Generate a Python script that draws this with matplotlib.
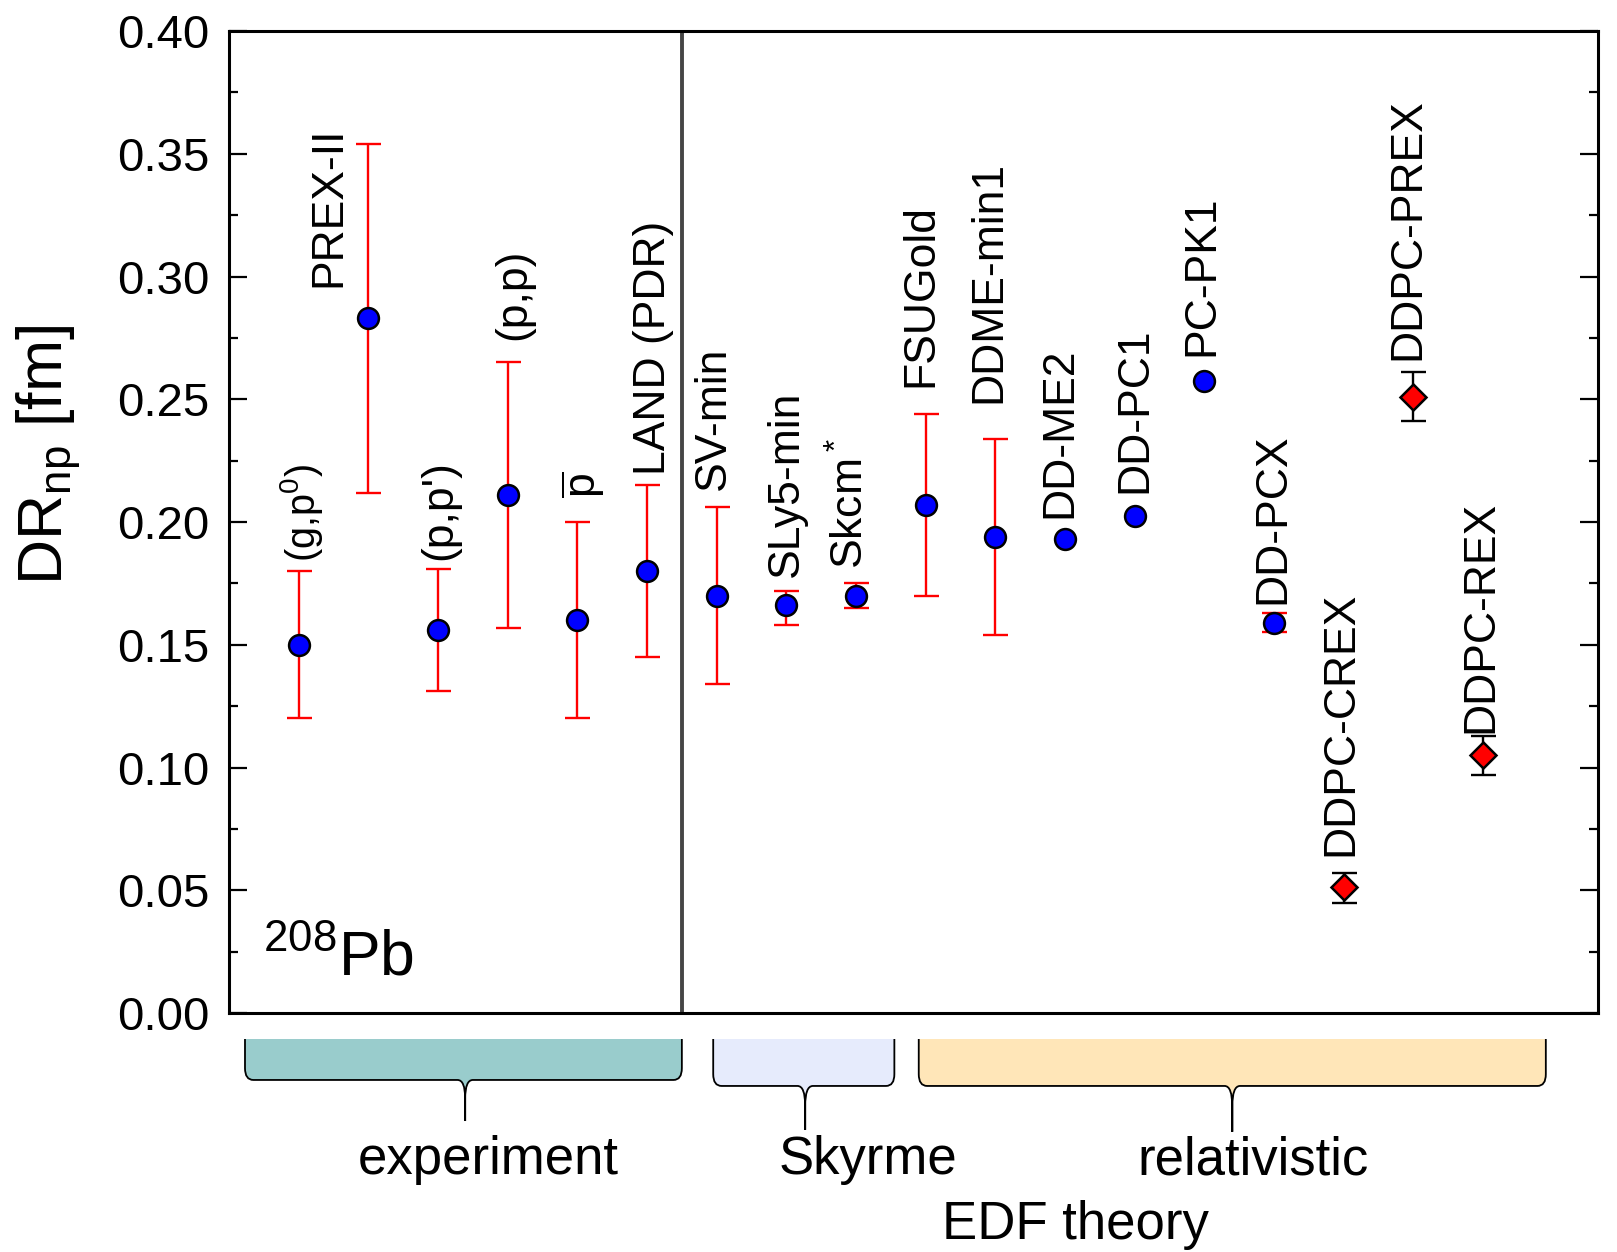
import numpy as np
import matplotlib
matplotlib.use("Agg")
import matplotlib.pyplot as plt
from matplotlib.path import Path
from matplotlib.patches import PathPatch
from matplotlib.transforms import blended_transform_factory

plt.rcParams['font.family'] = ['Liberation Sans', 'DejaVu Sans']
plt.rcParams['mathtext.fontset'] = 'custom'
plt.rcParams['mathtext.rm'] = 'Liberation Sans'
plt.rcParams['mathtext.default'] = 'regular'

# data: neutron skin thickness of 208Pb
labels = ['(g,p$^0$)', 'PREX-II', "(p,p')", '(p,p)', r'$\overline{p}$', 'LAND (PDR)',
          'SV-min', 'SLy5-min', 'Skcm$^*$', 'FSUGold', 'DDME-min1', 'DD-ME2',
          'DD-PC1', 'PC-PK1', 'DD-PCX', 'DDPC-CREX', 'DDPC-PREX', 'DDPC-REX']
values = [0.150, 0.283, 0.156, 0.211, 0.160, 0.180,
          0.170, 0.166, 0.170, 0.207, 0.194, 0.193,
          0.2025, 0.2575, 0.159, 0.0513, 0.251, 0.105]
upper = [0.180, 0.354, 0.181, 0.265, 0.200, 0.215,
         0.206, 0.172, 0.175, 0.244, 0.234, np.nan,
         np.nan, np.nan, 0.163, 0.057, 0.261, 0.113]
lower = [0.120, 0.212, 0.131, 0.157, 0.120, 0.145,
         0.134, 0.158, 0.165, 0.170, 0.154, np.nan,
         np.nan, np.nan, 0.155, 0.045, 0.241, 0.097]
n_ddpc = 3  # last three are DDPC fits

# label anchor (x centre, bottom) for the rotated names
label_x = [1.04, 1.43, 3.03, 4.09, 5.08, 6.10, 6.95, 8.00, 8.93, 9.93, 10.91, 11.93,
           13.00, 13.97, 14.98, 15.96, 16.92, 17.97]
label_y = [0.1836, 0.2958, 0.1845, 0.274, 0.2097, 0.2193, 0.213, 0.1777, 0.181, 0.255,
           0.2483, 0.2017, 0.2118, 0.2676, 0.1668, 0.0639, 0.266, 0.1139]
label_size = [28.5, 32, 32, 32, 32, 32, 32, 32, 32, 32, 32, 32, 32, 32, 32, 32, 32, 32]

# groups under the axis: (text, left, right, tip, bottom, tip bottom, colour, text x)
groups = [('experiment', 0.23, 6.50, 3.39, -0.0682, -0.110, '#99cccc', 3.72),
          ('Skyrme', 6.95, 9.55, 8.27, -0.0743, -0.119, '#e6ebfc', 9.17),
          ('relativistic', 9.90, 18.90, 14.40, -0.0743, -0.121, '#ffe6b8', 14.70)]

x = np.arange(1, len(values) + 1)
values = np.array(values)
upper = np.array(upper)
lower = np.array(lower)

fig = plt.figure(figsize=(16.17, 12.52), dpi=100)
ax = fig.add_axes([0.1416, 0.1909, 0.8467, 0.7843])

nb = len(values) - n_ddpc
has_err = ~np.isnan(upper)

# experiment + EDF points with red error bars
m = has_err.copy()
m[nb:] = False
ax.errorbar(x[m], values[m], yerr=[values[m] - lower[m], upper[m] - values[m]],
            fmt='none', ecolor='red', elinewidth=1.7, capsize=9, capthick=1.7, zorder=2)
ax.plot(x[:nb], values[:nb], 'o', ms=15, mfc='blue', mec='black', mew=1.8, zorder=3)

# DDPC fits
ax.errorbar(x[nb:], values[nb:], yerr=[values[nb:] - lower[nb:], upper[nb:] - values[nb:]],
            fmt='none', ecolor='black', elinewidth=1.7, capsize=9, capthick=1.7, zorder=2)
ax.plot(x[nb:], values[nb:], 'D', ms=13.5, mfc='red', mec='black', mew=1.8, zorder=3)

for i in range(len(labels)):
    ax.text(label_x[i], label_y[i], labels[i], rotation=90, ha='center', va='bottom',
            fontsize=label_size[i])

ax.axvline(6.5, color='#454545', lw=2.8, zorder=1)

ax.set_xlim(0, 19.65)
ax.set_ylim(0, 0.40)
ax.set_xticks([])
ax.set_yticks(np.arange(0, 0.401, 0.05))
ax.set_yticks(np.arange(0.025, 0.4, 0.05), minor=True)
ax.set_yticklabels(['%.2f' % v for v in np.arange(0, 0.401, 0.05)])
ax.tick_params(axis='y', which='both', direction='in', left=True, right=True,
               labelsize=34, pad=14, width=1.6)
ax.tick_params(axis='y', which='major', length=13)
ax.tick_params(axis='y', which='minor', length=6.5)
for s in ax.spines.values():
    s.set_linewidth(2.2)

ax.text(0.0248, 0.0387, '$^{208}$Pb', transform=ax.transAxes, fontsize=45,
        va='baseline', ha='left')

fig.text(0.030, 0.6366, 'DR$_{np}$ [fm]', rotation=90, ha='center', va='center',
         fontsize=45)

# brace-like group markers below the axis
trans = blended_transform_factory(ax.transData, ax.transAxes)
ytop = -0.0265
rx, ry, w = 0.12, 0.012, 0.11
for name, x0, x1, xt, yb, ytip, col, tx in groups:
    ymid = yb - 0.45 * (yb - ytip)
    verts = [(x0, ytop), (x0, yb + ry), (x0, yb), (x0 + rx, yb),
             (xt - w, yb), (xt, yb), (xt, ymid), (xt, ytip), (xt, ymid),
             (xt, yb), (xt + w, yb), (x1 - rx, yb), (x1, yb), (x1, yb + ry), (x1, ytop)]
    codes = [Path.MOVETO, Path.LINETO, Path.CURVE3, Path.CURVE3,
             Path.LINETO, Path.CURVE3, Path.CURVE3, Path.LINETO, Path.LINETO,
             Path.CURVE3, Path.CURVE3, Path.LINETO, Path.CURVE3, Path.CURVE3, Path.LINETO]
    fill = Path(verts + [(x0, ytop)], codes + [Path.CLOSEPOLY])
    ax.add_patch(PathPatch(fill, transform=trans, facecolor=col, edgecolor='none',
                           clip_on=False, zorder=1))
    ax.add_patch(PathPatch(Path(verts, codes), transform=trans, facecolor='none',
                           edgecolor='black', lw=1.3, clip_on=False, zorder=2))
    ax.text(tx, -0.150, name, transform=trans, ha='center', va='center', fontsize=38)

ax.text(12.15, -0.216, 'EDF theory', transform=trans, ha='center', va='center', fontsize=38)

fig.savefig('out.png', dpi=100)
